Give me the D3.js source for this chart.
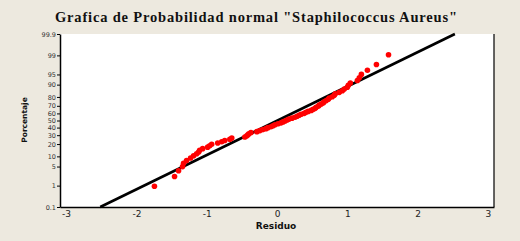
<!DOCTYPE html>
<html>
<head>
<meta charset="utf-8">
<script src="https://cdn.jsdelivr.net/npm/d3@7"></script>
<style>
  body { margin: 0; background: #ede9df; }
  svg { display: block; }
</style>
</head>
<body>
<div class="container"></div>
<script>
const width = 520;
const height = 241;
const margin = { top: 34, right: 26, bottom: 34, left: 60 };
const bgColor = '#ede9df';
const dotColor = '#ff0000';

// residuals, sorted (Minitab plots each against its median rank)
const residuos = [
    -1.743, -1.457, -1.400, -1.343, -1.329, -1.286, -1.229, -1.186, -1.143, -1.114,
    -1.100, -1.057, -0.986, -0.957, -0.929, -0.843, -0.786, -0.743, -0.671, -0.643,
    -0.457, -0.429, -0.414, -0.400, -0.371, -0.286, -0.243, -0.200, -0.157, -0.129,
    -0.086, -0.057, -0.029, 0.014, 0.057, 0.086, 0.114, 0.143, 0.171, 0.214,
    0.257, 0.286, 0.314, 0.343, 0.386, 0.414, 0.443, 0.486, 0.514, 0.543,
    0.557, 0.586, 0.600, 0.629, 0.657, 0.671, 0.700, 0.729, 0.743, 0.786,
    0.814, 0.829, 0.886, 0.929, 0.957, 1.000, 1.014, 1.043, 1.143, 1.171,
    1.200, 1.286, 1.414, 1.586
];
// fitted normal line
const fitMean = 0.008;
const fitStd = 0.816;

const yTicks = [0.1, 1, 5, 10, 20, 30, 40, 50, 60, 70, 80, 90, 95, 99, 99.9];
const xTicks = [-3, -2, -1, 0, 1, 2, 3];

// inverse normal CDF (Acklam)
function probit(p) {
    const a = [-39.69683028665376, 220.9460984245205, -275.9285104469687, 138.3577518672690, -30.66479806614716, 2.506628277459239];
    const b = [-54.47609879822406, 161.5858368580409, -155.6989798598866, 66.80131188771972, -13.28068155288572];
    const c = [-0.007784894002430293, -0.3223964580411365, -2.400758277161838, -2.549732539343734, 4.374664141464968, 2.938163982698783];
    const d = [0.007784695709041462, 0.3224671290700398, 2.445134137142996, 3.754408661907416];
    const pl = 0.02425;
    let q, r;
    if (p < pl) {
        q = Math.sqrt(-2 * Math.log(p));
        return (((((c[0] * q + c[1]) * q + c[2]) * q + c[3]) * q + c[4]) * q + c[5]) /
            ((((d[0] * q + d[1]) * q + d[2]) * q + d[3]) * q + 1);
    } else if (p <= 1 - pl) {
        q = p - 0.5;
        r = q * q;
        return (((((a[0] * r + a[1]) * r + a[2]) * r + a[3]) * r + a[4]) * r + a[5]) * q /
            (((((b[0] * r + b[1]) * r + b[2]) * r + b[3]) * r + b[4]) * r + 1);
    }
    q = Math.sqrt(-2 * Math.log(1 - p));
    return -(((((c[0] * q + c[1]) * q + c[2]) * q + c[3]) * q + c[4]) * q + c[5]) /
        ((((d[0] * q + d[1]) * q + d[2]) * q + d[3]) * q + 1);
}

const n = residuos.length;
const points = residuos.map((r, i) => ({ x: r, p: 100 * (i + 1 - 0.3) / (n + 0.4) }));

const zMax = probit(0.999);
const xscale = d3.scaleLinear().domain([-3.086, 3.086]).range([margin.left, width - margin.right]);
const zscale = d3.scaleLinear().domain([-zMax, zMax]).range([height - margin.bottom, margin.top]);
const yscale = p => zscale(probit(p / 100));

const svg = d3.select('.container')
    .append('svg')
    .attr('width', width)
    .attr('height', height)
    .style('background', bgColor);

// title
svg.append('text')
    .attr('x', 256)
    .attr('y', 22)
    .attr('text-anchor', 'middle')
    .attr('textLength', 402)
    .attr('lengthAdjust', 'spacing')
    .style('font-family', '"Liberation Serif", "Times New Roman", serif')
    .style('font-weight', 'bold')
    .style('font-size', '14.5px')
    .attr('fill', '#111')
    .text('Grafica de Probabilidad normal "Staphilococcus Aureus"');

// plot area
svg.append('rect')
    .attr('x', margin.left)
    .attr('y', margin.top)
    .attr('width', width - margin.left - margin.right)
    .attr('height', height - margin.top - margin.bottom)
    .attr('fill', '#fff');

// right border
svg.append('line')
    .attr('x1', width - margin.right).attr('x2', width - margin.right)
    .attr('y1', margin.top).attr('y2', height - margin.bottom)
    .attr('stroke', '#000').attr('stroke-width', 1.2);

// y axis
const yAxis = svg.append('g')
    .attr('transform', `translate(${margin.left},0)`)
    .call(d3.axisLeft(zscale)
        .tickValues(yTicks.map(p => probit(p / 100)))
        .tickFormat((z, i) => yTicks[i])
        .tickSize(3)
        .tickSizeOuter(0));
yAxis.select('.domain').attr('stroke', '#000').attr('stroke-width', 1.5);
yAxis.selectAll('.tick line').attr('stroke', '#000');
yAxis.selectAll('.tick text')
    .attr('x', -4)
    .style('font-family', '"DejaVu Sans", Verdana, sans-serif')
    .style('font-size', '6.5px')
    .attr('fill', '#333');

// x axis
const xAxis = svg.append('g')
    .attr('transform', `translate(0,${height - margin.bottom})`)
    .call(d3.axisBottom(xscale)
        .tickValues(xTicks)
        .tickFormat(d3.format('d'))
        .tickSize(0)
        .tickSizeOuter(0));
xAxis.select('.domain').attr('stroke', '#000').attr('stroke-width', 1.5);
xAxis.selectAll('.tick text')
    .attr('y', 4)
    .style('font-family', '"DejaVu Sans", Verdana, sans-serif')
    .style('font-size', '9px')
    .attr('fill', '#222')
    .text(d => d < 0 ? '-' + Math.abs(d) : d);

// axis titles
svg.append('text')
    .attr('x', 276)
    .attr('y', 229)
    .attr('text-anchor', 'middle')
    .style('font-family', '"DejaVu Sans", Verdana, sans-serif')
    .style('font-weight', 'bold')
    .style('font-size', '9px')
    .attr('fill', '#111')
    .text('Residuo');

svg.append('text')
    .attr('transform', 'translate(27,120) rotate(-90)')
    .attr('text-anchor', 'middle')
    .style('font-family', '"DejaVu Sans", Verdana, sans-serif')
    .style('font-weight', 'bold')
    .style('font-size', '7.5px')
    .attr('fill', '#111')
    .text('Porcentaje');

// fitted line
const fitLine = [0.1, 99.9].map(p => ({ x: fitMean + fitStd * probit(p / 100), p }));
svg.append('path')
    .datum(fitLine)
    .attr('d', d3.line().x(d => xscale(d.x)).y(d => yscale(d.p)))
    .attr('stroke', '#000')
    .attr('stroke-width', 2.6)
    .attr('fill', 'none');

// residual points
svg.selectAll('.dot')
    .data(points)
    .enter()
    .append('circle')
    .attr('class', 'dot')
    .attr('cx', d => xscale(d.x))
    .attr('cy', d => yscale(d.p))
    .attr('r', 2.8)
    .attr('fill', dotColor);
</script>
</body>
</html>
